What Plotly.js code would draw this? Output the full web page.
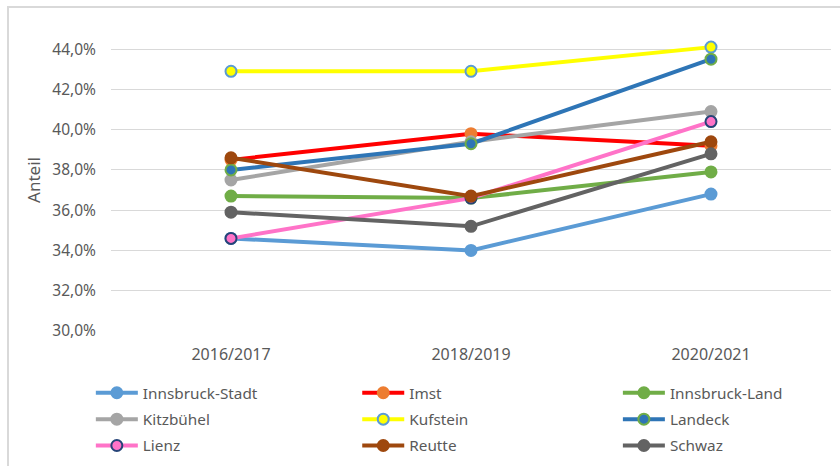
<!DOCTYPE html>
<html>
<head>
<meta charset="utf-8">
<script src="https://cdn.plot.ly/plotly-3.0.1.min.js"></script>
<style>
html,body{margin:0;padding:0;background:#fff;overflow:hidden;}
#wrap{position:relative;width:840px;height:466px;overflow:hidden;}
#chart{position:absolute;left:0;top:0;width:840px;height:466px;}
#frame{position:absolute;left:7px;top:6px;width:900px;height:500px;border-left:2px solid #D9D9D9;border-top:2px solid #D9D9D9;pointer-events:none;}
</style>
</head>
<body>
<div id="wrap"><div id="chart"></div><div id="frame"></div></div>
<script>
const categories = ["2016/2017", "2018/2019", "2020/2021"];
const seriesNames = ["Innsbruck-Stadt", "Imst", "Innsbruck-Land", "Kitzbühel", "Kufstein", "Landeck", "Lienz", "Reutte", "Schwaz"];
const innsbruckStadt = [34.6, 34.0, 36.8];
const imst = [38.5, 39.8, 39.2];
const innsbruckLand = [36.7, 36.6, 37.9];
const kitzbuehel = [37.5, 39.4, 40.9];
const kufstein = [42.9, 42.9, 44.1];
const landeck = [38.0, 39.3, 43.5];
const lienz = [34.6, 36.6, 40.4];
const reutte = [38.6, 36.7, 39.4];
const schwaz = [35.9, 35.2, 38.8];
const yTicks = [30, 32, 34, 36, 38, 40, 42, 44];
const yTickLabels = ["30,0%", "32,0%", "34,0%", "36,0%", "38,0%", "40,0%", "42,0%", "44,0%"];

const seriesValues = [innsbruckStadt, imst, innsbruckLand, kitzbuehel, kufstein, landeck, lienz, reutte, schwaz];
const styles = [
  {line: "#5B9BD5", fill: "#5B9BD5", edge: "#5B9BD5"},
  {line: "#FF0000", fill: "#ED7D31", edge: "#ED7D31"},
  {line: "#70AD47", fill: "#70AD47", edge: "#70AD47"},
  {line: "#A5A5A5", fill: "#A5A5A5", edge: "#A5A5A5"},
  {line: "#FFFF00", fill: "#FFFF00", edge: "#5B9BD5"},
  {line: "#2E75B6", fill: "#2E75B6", edge: "#70AD47"},
  {line: "#FF73C8", fill: "#FF73C8", edge: "#264478"},
  {line: "#9E480E", fill: "#9E480E", edge: "#9E480E"},
  {line: "#636363", fill: "#636363", edge: "#636363"}
];
const legendIds = ["legend", "legend2", "legend3"];

const traces = seriesNames.map((name, i) => ({
  type: "scatter",
  mode: "lines+markers",
  name: name,
  x: categories,
  y: seriesValues[i],
  legend: legendIds[i % 3],
  legendgroup: "g" + i,
  line: {color: styles[i].line, width: 4},
  marker: {size: 11, color: styles[i].fill, line: {color: styles[i].edge, width: 2}},
  hoverinfo: "skip"
}));

const font = "'Noto Sans', 'Open Sans', sans-serif";
const legendFont = {family: font, size: 15.3, color: "#595959"};
function legendAt(xp) {
  return {
    orientation: "v",
    x: xp, xanchor: "left",
    y: -0.15, yanchor: "top",
    itemwidth: 42,
    tracegroupgap: 3.5,
    font: legendFont,
    traceorder: "grouped",
    bgcolor: "rgba(0,0,0,0)"
  };
}
const layout = {
  width: 840, height: 466,
  margin: {l: 111, r: 9, t: 29, b: 135, autoexpand: false},
  paper_bgcolor: "#ffffff",
  plot_bgcolor: "#ffffff",
  font: {family: font, size: 15, color: "#595959"},
  showlegend: true,
  legend: legendAt(-0.028),
  legend2: legendAt(0.342),
  legend3: legendAt(0.704),
  xaxis: {
    type: "category",
    range: [-0.5, 2.5],
    showgrid: false,
    zeroline: false,
    showline: false,
    ticks: "",
    ticklabelstandoff: 12,
    tickfont: {family: font, size: 16, color: "#595959"},
    fixedrange: true
  },
  yaxis: {
    range: [30, 45],
    tickvals: yTicks,
    ticktext: yTickLabels,
    showgrid: true,
    gridcolor: "#D9D9D9",
    gridwidth: 1,
    zeroline: false,
    showline: false,
    ticks: "",
    ticklabelstandoff: 14,
    tickfont: {family: font, size: 15.5, color: "#595959"},
    title: {text: "Anteil", font: {family: font, size: 17, color: "#595959"}, standoff: 7},
    fixedrange: true
  }
};

Plotly.newPlot("chart", traces, layout, {displayModeBar: false, staticPlot: true});
</script>
</body>
</html>
